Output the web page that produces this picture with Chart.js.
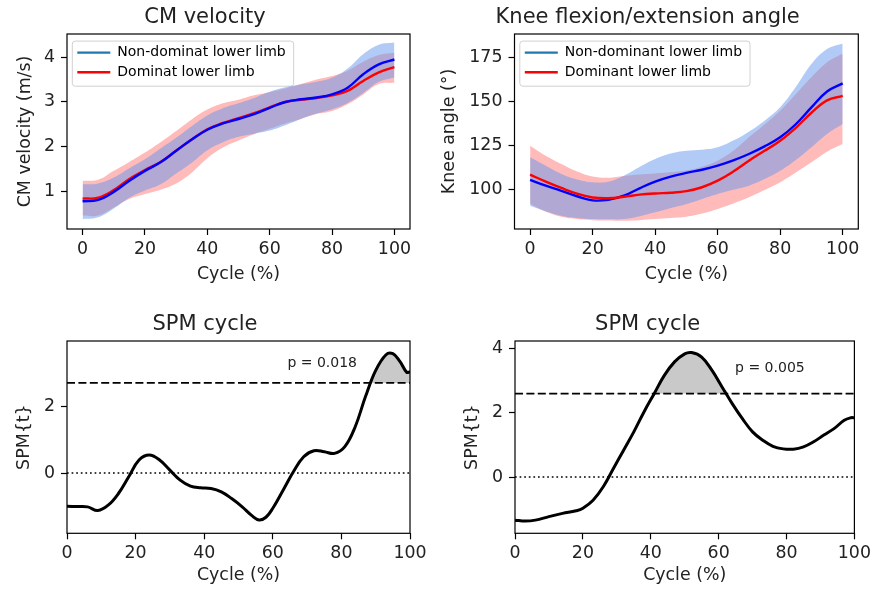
<!DOCTYPE html>
<html lang="en">
<head>
<meta charset="UTF-8">
<title>CM velocity / knee angle SPM</title>
<script src="https://cdn.jsdelivr.net/npm/chart.js"></script>
<style>
  body { margin: 0; background: #fff; }
  #wrap { position: relative; width: 875px; height: 592px; }
  canvas { position: absolute; }
</style>
</head>
<body>
<div id="wrap">
  <canvas id="cmChart" width="437" height="296" style="left:0;top:0"></canvas>
  <canvas id="kneeChart" width="438" height="296" style="left:437px;top:0"></canvas>
  <canvas id="spmCmChart" width="437" height="296" style="left:0;top:296px"></canvas>
  <canvas id="spmKneeChart" width="438" height="296" style="left:437px;top:296px"></canvas>
</div>
<script>
// ---- data ----
const cycle = [0,5,10,15,20,25,30,35,40,45,50,55,60,65,70,75,80,85,90,95,100];

// CM velocity (m/s): mean and mean +/- sd
const cmNonDomMean  = [0.78,0.81,0.99,1.24,1.46,1.65,1.91,2.16,2.38,2.52,2.62,2.73,2.87,3.00,3.06,3.10,3.17,3.32,3.62,3.84,3.95];
const cmNonDomUpper = [1.16,1.18,1.31,1.52,1.72,1.96,2.20,2.46,2.70,2.86,2.97,3.09,3.23,3.33,3.39,3.45,3.54,3.75,4.07,4.28,4.33];
const cmNonDomLower = [0.38,0.42,0.62,0.86,1.02,1.16,1.40,1.64,1.92,2.10,2.22,2.29,2.36,2.48,2.62,2.74,2.84,2.98,3.20,3.45,3.55];
const cmDomMean  = [0.84,0.86,1.03,1.28,1.48,1.66,1.91,2.16,2.39,2.53,2.64,2.75,2.88,3.00,3.05,3.09,3.15,3.25,3.47,3.66,3.78];
const cmDomUpper = [1.24,1.26,1.46,1.66,1.87,2.10,2.35,2.61,2.83,2.97,3.05,3.15,3.22,3.30,3.40,3.50,3.58,3.70,3.90,4.05,4.10];
const cmDomLower = [0.46,0.46,0.64,0.83,0.94,1.04,1.18,1.42,1.74,1.98,2.14,2.28,2.40,2.52,2.62,2.73,2.80,2.95,3.17,3.40,3.43];

// Knee angle (deg)
const kneeNonDomMean  = [105.5,102.3,99.4,96.3,94.0,94.3,96.6,100.8,104.6,107.4,109.5,111.3,113.6,116.6,120.2,124.5,129.6,137.0,146.5,155.5,160.1];
const kneeNonDomUpper = [118.3,113.5,108.9,105.8,104.2,104.5,107.9,112.8,117.3,120.4,122.0,122.6,124.0,127.8,132.8,139.0,146.6,158.0,171.0,179.5,182.7];
const kneeNonDomLower = [90.9,87.8,85.3,84.0,83.4,83.3,83.4,85.0,87.2,89.6,91.9,94.8,97.6,100.0,102.3,106.0,110.7,116.8,124.0,131.5,137.1];
const kneeDomMean  = [108.5,104.6,101.0,97.8,95.6,95.2,96.0,97.2,97.9,98.3,99.2,101.4,105.1,110.3,116.4,122.0,127.7,135.0,143.5,150.5,153.0];
const kneeDomUpper = [124.9,119.2,114.5,110.3,107.5,106.8,107.8,108.6,109.2,110.0,110.9,113.0,116.4,122.0,129.6,136.8,144.6,154.0,163.5,172.0,177.0];
const kneeDomLower = [92.0,87.5,84.7,83.4,82.8,82.6,82.5,82.8,83.4,84.0,84.7,86.5,89.1,92.2,95.7,99.8,104.2,109.7,115.5,121.5,125.8];

// SPM{t} curves
const spmCmCycle = [0,3,6,9,12,15,18,21,24,27,30,33,36,39,42,45,48,51,54,56,58,60,63,66,69,72,75,78,81,84,87,90,93,95,97,99,100];
const spmCmT     = [-0.99,-1.00,-1.01,-1.12,-0.96,-0.61,-0.11,0.39,0.54,0.39,0.09,-0.21,-0.39,-0.44,-0.46,-0.56,-0.76,-1.00,-1.28,-1.40,-1.32,-1.05,-0.51,0.04,0.49,0.67,0.64,0.59,0.79,1.38,2.28,3.07,3.54,3.57,3.35,3.02,3.02];
const spmKneeCycle = [0,3,6,10,14,18,20,23,26,29,32,35,38,41,44,47,50,52,55,58,61,64,67,70,73,76,79,82,85,88,91,94,97,99,100];
const spmKneeT     = [-1.34,-1.37,-1.34,-1.23,-1.13,-1.05,-0.97,-0.72,-0.30,0.27,0.84,1.41,2.03,2.60,3.17,3.59,3.84,3.88,3.74,3.33,2.81,2.29,1.82,1.41,1.15,0.96,0.88,0.87,0.94,1.10,1.31,1.51,1.77,1.85,1.85];

const thresholds = [2.695, 2.60];     // critical t
const pValues = ['p = 0.018', 'p = 0.005'];
const spmRange = [0, 100];

const legendCm = ['Non-dominat lower limb', 'Dominat lower limb'];
const legendKnee = ['Non-dominant lower limb', 'Dominant lower limb'];
const legendColors = ['#1f77b4', '#ff0000'];

const topXTicks = [0,20,40,60,80,100];
const cmYTicks = [1,2,3,4];
const kneeYTicks = [100,125,150,175];
const spmCmYTicks = [0,2];
const spmKneeYTicks = [0,2,4];

// ---- helpers ----
Chart.defaults.font.family = '"DejaVu Sans", sans-serif';
Chart.defaults.color = '#222';

const pts = (xs, ys) => xs.map((x, i) => ({x, y: ys[i]}));

const frame = {
  id: 'frame',
  afterDraw(chart) {
    const a = chart.chartArea, ctx = chart.ctx;
    ctx.save();
    ctx.strokeStyle = '#000';
    ctx.lineWidth = 1.2;
    ctx.strokeRect(a.left, a.top, a.right - a.left, a.bottom - a.top);
    ctx.restore();
  }
};

// moves the chartArea legend a bit in and draws a matplotlib-like box behind it
const legendBox = {
  id: 'legendBox',
  afterLayout(chart, args, opts) {
    const lg = chart.legend;
    if (!lg || !lg.options.display) return;
    const a = chart.chartArea;
    const w = lg.width, h = lg.height;
    lg.left = a.left + opts.dx; lg.top = a.top + opts.dy;
    lg.right = lg.left + w; lg.bottom = lg.top + h;
  },
  beforeDraw(chart) {
    const lg = chart.legend;
    if (!lg || !lg.options.display || !lg.legendHitBoxes.length) return;
    const hb = lg.legendHitBoxes;
    let l = Infinity, t = Infinity, r = -Infinity, b = -Infinity;
    hb.forEach(h => {
      l = Math.min(l, h.left); t = Math.min(t, h.top);
      r = Math.max(r, h.left + h.width); b = Math.max(b, h.top + h.height);
    });
    l -= 5; t -= 4.5; r += 8; b += 7;
    const ctx = chart.ctx;
    ctx.save();
    ctx.beginPath();
    ctx.roundRect(l, t, r - l, b - t, 3);
    ctx.fillStyle = 'rgba(255,255,255,0.8)';
    ctx.fill();
    ctx.strokeStyle = '#d0d0d0';
    ctx.lineWidth = 1;
    ctx.stroke();
    ctx.restore();
  }
};

const pLabel = {
  id: 'pLabel',
  afterDatasetsDraw(chart, args, opts) {
    if (!opts.text) return;
    const ctx = chart.ctx;
    const x = chart.scales.x.getPixelForValue(opts.x);
    const y = chart.scales.y.getPixelForValue(opts.y);
    ctx.save();
    ctx.font = '14px "DejaVu Sans"';
    ctx.fillStyle = '#222';
    ctx.textAlign = 'center';
    ctx.textBaseline = 'middle';
    ctx.fillText(opts.text, x, y);
    ctx.restore();
  }
};

function scales(o) {
  return {
    x: {
      type: 'linear', min: o.xMin, max: o.xMax,
      afterBuildTicks: s => { s.ticks = o.xTicks.map(v => ({value: v})); },
      afterFit: s => { s.height = o.xHeight; },
      grid: {drawOnChartArea: false, drawTicks: true, tickLength: 6, tickWidth: 1.2, tickColor: '#000'},
      border: {display: false},
      ticks: {padding: 4, font: {size: 17.4}, maxRotation: 0, autoSkip: false},
      title: {display: true, text: 'Cycle (%)', font: {size: 17.4}, padding: {top: 0, bottom: o.xTitlePad}}
    },
    y: {
      type: 'linear', min: o.yMin, max: o.yMax,
      afterBuildTicks: s => { s.ticks = o.yTicks.map(v => ({value: v})); },
      afterFit: s => { s.width = o.yWidth; },
      grid: {drawOnChartArea: false, drawTicks: true, tickLength: 6, tickWidth: 1.2, tickColor: '#000'},
      border: {display: false},
      ticks: {padding: 6, font: {size: 17.4}},
      title: {display: true, text: o.yTitle, font: {size: 17.4}, padding: {top: o.yTitlePad, bottom: 0}}
    }
  };
}

function bandChart(id, names, d, o) {
  const band = (upper, lower, color) => [
    {data: pts(cycle, upper), borderWidth: 0, pointRadius: 0, fill: '+1', backgroundColor: color, tension: 0.4},
    {data: pts(cycle, lower), borderWidth: 0, pointRadius: 0, fill: false, tension: 0.4}
  ];
  const redLine = {data: pts(cycle, d.domMean), borderColor: '#ff0000', borderWidth: 2.4, pointRadius: 0, fill: false, tension: 0.4};
  const blueLine = {data: pts(cycle, d.nonMean), borderColor: '#0000ff', borderWidth: 2.4, pointRadius: 0, fill: false, tension: 0.4};
  // first dataset is drawn last (on top)
  const datasets = [
    ...(o.blueOnTop ? [blueLine, redLine] : [redLine, blueLine]),
    ...band(d.nonUpper, d.nonLower, 'rgba(100,149,237,0.5)'),
    ...band(d.domUpper, d.domLower, 'rgba(255,0,0,0.27)')
  ];
  return new Chart(document.getElementById(id), {
    type: 'line',
    data: {datasets},
    options: {
      responsive: false, animation: false, events: [],
      layout: {padding: {left: 0, top: 0, right: o.padRight, bottom: 0}},
      scales: scales(o),
      plugins: {
        title: {display: true, text: o.title, font: {size: 21, weight: 'normal'}, padding: {top: o.titleTop, bottom: o.titleBottom}},
        tooltip: {enabled: false},
        legend: {
          display: true, position: 'chartArea', align: 'start',
          labels: {
            usePointStyle: true, pointStyleWidth: 33, padding: 5.6,
            font: {size: 14},
            generateLabels: () => names.map((t, i) => ({
              text: t, strokeStyle: legendColors[i], fillStyle: legendColors[i],
              lineWidth: 2.4, pointStyle: 'line', hidden: false, datasetIndex: i
            }))
          }
        },
        legendBox: {dx: 4.7, dy: 6}
      }
    },
    plugins: [legendBox, frame]
  });
}

function spmChart(id, xs, ys, thr, pText, o) {
  const datasets = [
    {data: pts(spmRange, [thr, thr]), borderColor: '#000', borderWidth: 1.8, borderDash: [8, 3.4], pointRadius: 0, fill: false},
    {data: pts(xs, ys), borderColor: '#000', borderWidth: 3, pointRadius: 0, tension: 0.4,
     fill: {target: {value: thr}, above: '#c9c9c9', below: 'rgba(0,0,0,0)'}},
    {data: pts(spmRange, [0, 0]), borderColor: '#000', borderWidth: 1.5, borderDash: [1.7, 2.9], pointRadius: 0, fill: false}
  ];
  return new Chart(document.getElementById(id), {
    type: 'line',
    data: {datasets},
    options: {
      responsive: false, animation: false, events: [],
      layout: {padding: {left: 0, top: 0, right: o.padRight, bottom: 0}},
      scales: scales(o),
      plugins: {
        title: {display: true, text: 'SPM cycle', font: {size: 21, weight: 'normal'}, padding: {top: o.titleTop, bottom: o.titleBottom}},
        tooltip: {enabled: false},
        legend: {display: false},
        pLabel: {text: pText, x: o.pX, y: o.pY}
      }
    },
    plugins: [pLabel, frame]
  });
}

bandChart('cmChart', legendCm,
  {nonMean: cmNonDomMean, nonUpper: cmNonDomUpper, nonLower: cmNonDomLower,
   domMean: cmDomMean, domUpper: cmDomUpper, domLower: cmDomLower},
  {title: 'CM velocity', titleTop: 5.2, titleBottom: 3.6, blueOnTop: true,
   xMin: -5, xMax: 105, xTicks: topXTicks, xHeight: 67, xTitlePad: 11,
   yMin: 0.16, yMax: 4.52, yTicks: cmYTicks, yWidth: 67, yTitle: 'CM velocity (m/s)', yTitlePad: 15.5,
   padRight: 27});

bandChart('kneeChart', legendKnee,
  {nonMean: kneeNonDomMean, nonUpper: kneeNonDomUpper, nonLower: kneeNonDomLower,
   domMean: kneeDomMean, domUpper: kneeDomUpper, domLower: kneeDomLower},
  {title: 'Knee flexion/extension angle', titleTop: 5.2, titleBottom: 3.6, blueOnTop: false,
   xMin: -5, xMax: 105, xTicks: topXTicks, xHeight: 67, xTitlePad: 11,
   yMin: 77.8, yMax: 188, yTicks: kneeYTicks, yWidth: 77.5, yTitle: 'Knee angle (°)', yTitlePad: 1.9,
   padRight: 16.7});

spmChart('spmCmChart', spmCmCycle, spmCmT, thresholds[0], pValues[0],
  {titleTop: 15.9, titleBottom: 3.9,
   xMin: 0, xMax: 100, xTicks: topXTicks, xHeight: 58.7, xTitlePad: 6.3,
   yMin: -1.80, yMax: 3.95, yTicks: spmCmYTicks, yWidth: 67, yTitle: 'SPM{t}', yTitlePad: 13.9,
   padRight: 27, pX: 74.4, pY: 3.28});

spmChart('spmKneeChart', spmKneeCycle, spmKneeT, thresholds[1], pValues[1],
  {titleTop: 15.9, titleBottom: 3.9,
   xMin: 0, xMax: 100, xTicks: topXTicks, xHeight: 58.7, xTitlePad: 6.3,
   yMin: -1.75, yMax: 4.24, yTicks: spmKneeYTicks, yWidth: 78, yTitle: 'SPM{t}', yTitlePad: 25.2,
   padRight: 16.7, pX: 75.1, pY: 3.39});
</script>
</body>
</html>
